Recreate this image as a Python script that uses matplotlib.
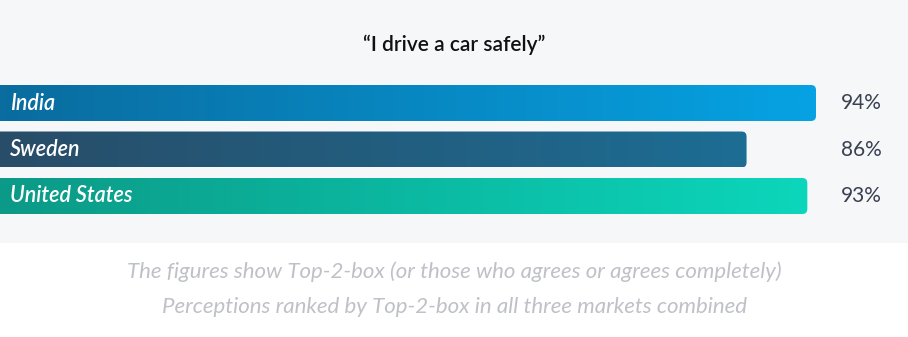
import numpy as np
import matplotlib
matplotlib.use('Agg')
import matplotlib.pyplot as plt
from matplotlib.patches import FancyBboxPatch, Rectangle
from matplotlib.colors import LinearSegmentedColormap
import matplotlib.transforms as mtransforms

plt.rcParams['font.family'] = ['Lato', 'DejaVu Sans']

countries = ['India', 'Sweden', 'United States']
values = [94, 86, 93]
grad_colors = [('#0a6c9f', '#06a2e3'),
               ('#284d68', '#1d6d94'),
               ('#0b9a87', '#0bd6bb')]

title = '\u201cI drive a car safely\u201d'
notes = ['The figures show Top-2-box (or those who agrees or agrees completely)',
         'Perceptions ranked by Top-2-box in all three markets combined']

W, H = 908, 337
fig = plt.figure(figsize=(W / 100, H / 100), dpi=100)
fig.patch.set_facecolor('white')

# light grey panel behind the chart
fig.patches.append(Rectangle((0, 1 - 243 / H), 1, 243 / H, transform=fig.transFigure,
                             facecolor='#f6f7f9', edgecolor='none', zorder=-5))

ax = fig.add_axes([0, 1 - 219.25 / H, 1, 139.5 / H])
ax.set_facecolor('none')
ax.set_zorder(2)
xmax = max(values) * W / 816
ax.set_xlim(0, xmax)
ax.set_ylim(len(countries) - 0.5, -0.5)
ax.axis('off')

bar_h = 0.774
# rounding: 5 px converted to data units
px_x = xmax / W
px_y = len(countries) / 139.5
radius = 5 * px_x
aspect = px_y / px_x

grad = np.linspace(0, 1, 256).reshape(1, -1)
for i, (name, v, (c0, c1)) in enumerate(zip(countries, values, grad_colors)):
    clip = FancyBboxPatch((-2, i - bar_h / 2), v + 2, bar_h,
                          boxstyle=f'round,pad=0,rounding_size={radius}',
                          mutation_aspect=aspect,
                          facecolor='none', edgecolor='none', transform=ax.transData)
    ax.add_patch(clip)
    cmap = LinearSegmentedColormap.from_list(name, [c0, c1])
    im = ax.imshow(grad, extent=(0, v, i + bar_h / 2, i - bar_h / 2), aspect='auto',
                   cmap=cmap, interpolation='bilinear', zorder=2)
    im.set_clip_path(clip)
    ax.text(10 * px_x, i, name, color='white', fontsize=15.5, style='italic',
            fontweight='semibold', va='center', ha='left', zorder=3)

ax.set_xlim(0, xmax)
ax.set_ylim(len(countries) - 0.5, -0.5)

trans = mtransforms.blended_transform_factory(fig.transFigure, ax.transData)
for i, v in enumerate(values):
    ax.text(861 / W, i, f'{v}%', transform=trans, color='#3b4050', fontsize=15,
            va='center', ha='center')

fig.text(0.5, 1 - 45 / H, title, ha='center', va='center', fontsize=15,
         fontweight='semibold', color='#111111')
fig.text(0.5, 1 - 272 / H, notes[0], ha='center', va='center', fontsize=16,
         style='italic', color='#bfc1c7')
fig.text(0.5, 1 - 307 / H, notes[1], ha='center', va='center', fontsize=16,
         style='italic', color='#bfc1c7')

fig.savefig('out.png', dpi=100)
